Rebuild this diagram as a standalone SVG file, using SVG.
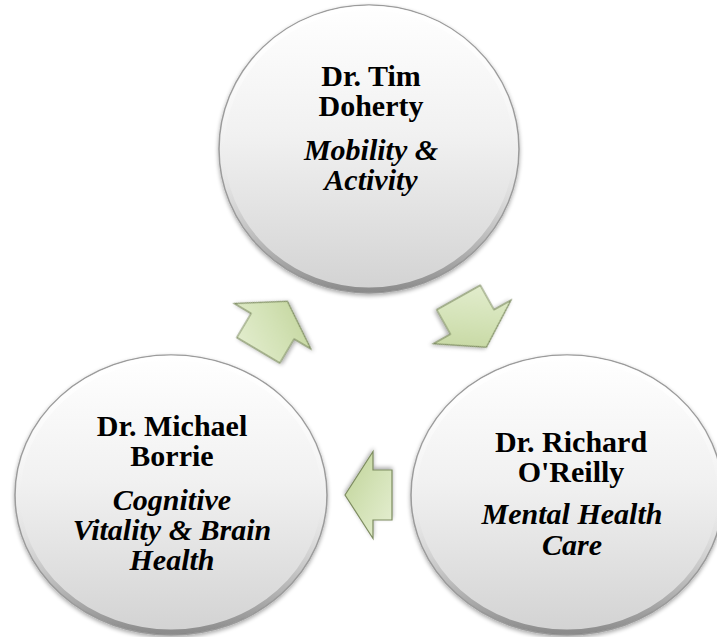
<svg xmlns="http://www.w3.org/2000/svg" width="717" height="637" viewBox="0 0 717 637">
<defs>
<linearGradient id="circFill" x1="0" y1="0" x2="0" y2="1">
<stop offset="0" stop-color="#ffffff"/>
<stop offset="0.45" stop-color="#f1f1f1"/>
<stop offset="1" stop-color="#d2d2d2"/>
</linearGradient>
<linearGradient id="circRim" x1="0" y1="0" x2="0" y2="1">
<stop offset="0" stop-color="#ffffff" stop-opacity="0.9"/>
<stop offset="0.5" stop-color="#ffffff" stop-opacity="0"/>
<stop offset="0.75" stop-color="#8c8c8c" stop-opacity="0.25"/>
<stop offset="1" stop-color="#6e6e6e" stop-opacity="0.7"/>
</linearGradient>
<linearGradient id="arrFill" x1="0" y1="0" x2="1" y2="1">
<stop offset="0" stop-color="#e6efd3"/>
<stop offset="0.5" stop-color="#d3e2b6"/>
<stop offset="1" stop-color="#bfd296"/>
</linearGradient>
<filter id="shadow" x="-10%" y="-10%" width="120%" height="125%">
<feGaussianBlur in="SourceAlpha" stdDeviation="2"/>
<feOffset dx="0" dy="2" result="b"/>
<feComponentTransfer><feFuncA type="linear" slope="0.35"/></feComponentTransfer>
<feMerge><feMergeNode/><feMergeNode in="SourceGraphic"/></feMerge>
</filter>
<path id="arrowShape" d="M0,-25 L28,-25 L28,-44.6 L57,0 L28,44.6 L28,25 L0,25 Z"/>
</defs>
<style>
.circ{fill:url(#circFill);stroke:#9b9b9b;stroke-width:1.5;filter:url(#shadow)}
.rim{fill:none;stroke:url(#circRim);stroke-width:5}
.arr{fill:url(#arrFill);stroke:#7d8c60;stroke-width:1.2;stroke-linejoin:miter;filter:url(#shadow)}
.t{font-family:"Liberation Serif","DejaVu Serif",serif;font-size:30px;font-weight:bold;text-anchor:middle;fill:#000}
.i{font-style:italic}
</style>
<rect width="717" height="637" fill="#ffffff"/>
<g id="node-top">
<ellipse class="circ" cx="369" cy="149" rx="150" ry="144"/>
<ellipse class="rim" cx="369" cy="149" rx="147" ry="141"/>
<text class="t" x="371" y="86">Dr. Tim</text>
<text class="t" x="371" y="116">Doherty</text>
<text class="t i" x="371" y="160">Mobility &amp;</text>
<text class="t i" x="371" y="190">Activity</text>
</g>
<g id="node-right">
<ellipse class="circ" cx="567" cy="495" rx="156" ry="140"/>
<ellipse class="rim" cx="567" cy="495" rx="153" ry="137"/>
<text class="t" x="571" y="452">Dr. Richard</text>
<text class="t" x="571" y="482">O'Reilly</text>
<text class="t i" x="572" y="524">Mental Health</text>
<text class="t i" x="572" y="555">Care</text>
</g>
<g id="node-left">
<ellipse class="circ" cx="171" cy="495" rx="156" ry="140"/>
<ellipse class="rim" cx="171" cy="495" rx="153" ry="137"/>
<text class="t" x="172" y="436">Dr. Michael</text>
<text class="t" x="172" y="466">Borrie</text>
<text class="t i" x="172" y="510">Cognitive</text>
<text class="t i" x="172" y="540">Vitality &amp; Brain</text>
<text class="t i" x="172" y="570">Health</text>
</g>
<g id="connectors">
<use href="#arrowShape" class="arr" transform="translate(258.3,350.3) rotate(-59.3)"/>
<use href="#arrowShape" class="arr" transform="translate(458.5,297.5) rotate(60.7)"/>
<path class="arr" d="M0,-25 L19,-25 L19,-43.5 L47,0 L19,43.5 L19,25 L0,25 Z" transform="translate(392,495) rotate(180)"/>
</g>
</svg>
